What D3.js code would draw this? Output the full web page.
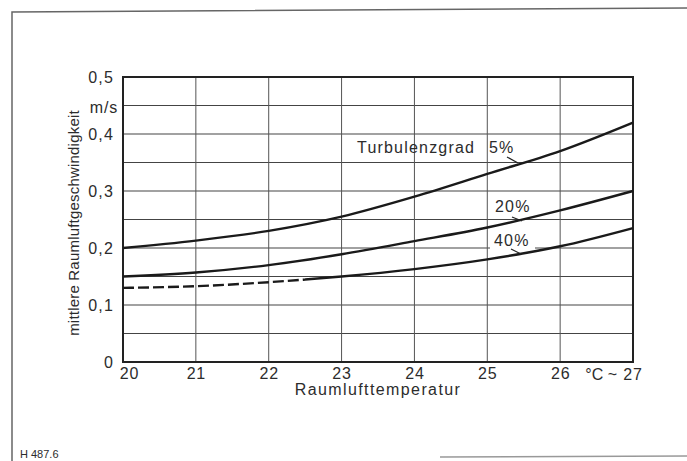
<!DOCTYPE html>
<html>
<head>
<meta charset="utf-8">
<script src="https://cdn.jsdelivr.net/npm/d3@7"></script>
<style>
  html, body { margin: 0; padding: 0; background: #fff; }
  svg { display: block; }
  text { font-family: "Liberation Sans", Arial, sans-serif; fill: #2c2c2c; }
</style>
</head>
<body>
<svg id="chart" width="687" height="461"></svg>
<script>
// Room air temperature (°C)
const temps = [20, 21, 22, 23, 24, 25, 26, 27];
// Mean room air velocity (m/s) per turbulence intensity
const turb5  = [0.200, 0.213, 0.230, 0.255, 0.290, 0.330, 0.370, 0.420];
const turb20 = [0.150, 0.157, 0.170, 0.189, 0.212, 0.236, 0.266, 0.300];
const turb40 = [0.130, 0.133, 0.140, 0.150, 0.163, 0.180, 0.203, 0.235];
const seriesLabels = ["5%", "20%", "40%"];
// The 40 % curve is dashed below this temperature
const dashedUntil = 22.5;

const xTicks = [20, 21, 22, 23, 24, 25, 26];
const yTicks = [0, 0.1, 0.2, 0.3, 0.4, 0.5];
const yGrid = d3.range(0, 0.5001, 0.05);

const svg = d3.select("#chart");
const M = { left: 123, right: 633, top: 77, bottom: 362 };

const x = d3.scaleLinear().domain([20, 27]).range([M.left, M.right]);
const y = d3.scaleLinear().domain([0, 0.5]).range([M.bottom, M.top]);

// Outer frame of the figure
svg.append("path")
  .attr("d", "M12,461 L12,12 L687,8")
  .attr("fill", "none").attr("stroke", "#666").attr("stroke-width", 1.5);
svg.append("line")
  .attr("x1", 440).attr("x2", 687).attr("y1", 457).attr("y2", 456)
  .attr("stroke", "#999").attr("stroke-width", 1.5);

// Grid
const grid = svg.append("g");
grid.selectAll("line.h").data(yGrid).join("line")
  .attr("x1", M.left).attr("x2", M.right)
  .attr("y1", d => y(d)).attr("y2", d => y(d))
  .attr("stroke", "#444").attr("stroke-width", 1.2);
grid.selectAll("line.v").data(d3.range(21, 27)).join("line")
  .attr("x1", d => x(d)).attr("x2", d => x(d))
  .attr("y1", M.top).attr("y2", M.bottom)
  .attr("stroke", "#555").attr("stroke-width", 1);

// Plot border
svg.append("rect")
  .attr("x", M.left).attr("y", M.top)
  .attr("width", M.right - M.left).attr("height", M.bottom - M.top)
  .attr("fill", "none").attr("stroke", "#222").attr("stroke-width", 2);

// Axes
const xAxis = d3.axisBottom(x).tickValues(xTicks).tickSize(0).tickPadding(6)
  .tickFormat(d3.format("d"));
const gx = svg.append("g").attr("transform", `translate(0,${M.bottom})`).call(xAxis);
gx.select(".domain").remove();
gx.selectAll("text").attr("font-size", 16).attr("fill", "#2c2c2c")
  .attr("letter-spacing", 0.8)
  .attr("font-family", "Liberation Sans, Arial, sans-serif")
  .attr("dx", d => d === 20 ? 6 : 0);

svg.append("text").attr("x", x(27)).attr("y", M.bottom + 18)
  .attr("text-anchor", "middle").attr("font-size", 16).attr("letter-spacing", 0.8).text("27");
svg.append("text").attr("x", x(27) - 16).attr("y", M.bottom + 18)
  .attr("text-anchor", "end").attr("font-size", 16).text("°C ~");

const yAxis = d3.axisLeft(y).tickValues(yTicks).tickSize(0).tickPadding(9)
  .tickFormat(d => d === 0 ? "0" : d3.format(".1f")(d).replace(".", ","));
const gy = svg.append("g").attr("transform", `translate(${M.left},0)`).call(yAxis);
gy.select(".domain").remove();
gy.selectAll("text").attr("font-size", 16).attr("fill", "#2c2c2c")
  .attr("letter-spacing", 1.2)
  .attr("font-family", "Liberation Sans, Arial, sans-serif");

svg.append("text").attr("x", M.left - 5).attr("y", y(0.45) + 7)
  .attr("text-anchor", "end").attr("font-size", 16).attr("letter-spacing", 0.8).text("m/s");

// Axis titles
svg.append("text").attr("x", (M.left + M.right) / 2).attr("y", 395)
  .attr("text-anchor", "middle").attr("font-size", 16).attr("letter-spacing", 1.4)
  .text("Raumlufttemperatur");
svg.append("text")
  .attr("transform", `translate(79,223) rotate(-90)`)
  .attr("text-anchor", "middle").attr("font-size", 15).attr("letter-spacing", 0.2)
  .text("mittlere Raumluftgeschwindigkeit");

// Curves
const line = d3.line().x(d => x(d[0])).y(d => y(d[1])).curve(d3.curveMonotoneX);
const pts = vals => temps.map((t, i) => [t, vals[i]]);

const curves = svg.append("g");
// Gap in the grid behind the 40 % label
curves.append("rect").attr("x", 490).attr("y", y(0.2) - 14).attr("width", 45).attr("height", 18).attr("fill", "#fff");

[turb5, turb20].forEach(v => {
  curves.append("path").attr("d", line(pts(v)))
    .attr("fill", "none").attr("stroke", "#1a1a1a").attr("stroke-width", 2.4);
});

// 40 % curve: dashed start, then solid
const p40 = curves.append("path").attr("d", line(pts(turb40)));
const len = p40.node().getTotalLength();
let lo = 0, hi = len;
for (let k = 0; k < 30; k++) {
  const mid = (lo + hi) / 2;
  if (p40.node().getPointAtLength(mid).x < x(dashedUntil)) lo = mid; else hi = mid;
}
const pattern = [];
let acc = 0;
while (acc + 14 < lo) { pattern.push(11, 4); acc += 15; }
pattern.push(lo - acc + 0.01, 0, len);
p40.attr("fill", "none").attr("stroke", "#1a1a1a").attr("stroke-width", 2.4)
  .attr("stroke-dasharray", pattern.join(","));

// Labels and leader ticks
const lab = svg.append("g").attr("font-size", 16).attr("letter-spacing", 1.2);
lab.append("text").attr("x", 357).attr("y", 153).text("Turbulenzgrad");
lab.append("text").attr("x", 489).attr("y", 153).text(seriesLabels[0]);
lab.append("text").attr("x", 495).attr("y", 212).text(seriesLabels[1]);
lab.append("text").attr("x", 494).attr("y", 246).text(seriesLabels[2]);

const leader = (x1, y1, x2, y2) => lab.append("line")
  .attr("x1", x1).attr("y1", y1).attr("x2", x2).attr("y2", y2)
  .attr("stroke", "#222").attr("stroke-width", 1.2);
leader(507, 157, 518, 163);
leader(512, 217, 522, 221);
leader(511, 249, 521, 254);

// Figure reference
svg.append("text").attr("x", 20).attr("y", 458).attr("font-size", 11)
  .attr("fill", "#444").text("H 487.6");
</script>
</body>
</html>
